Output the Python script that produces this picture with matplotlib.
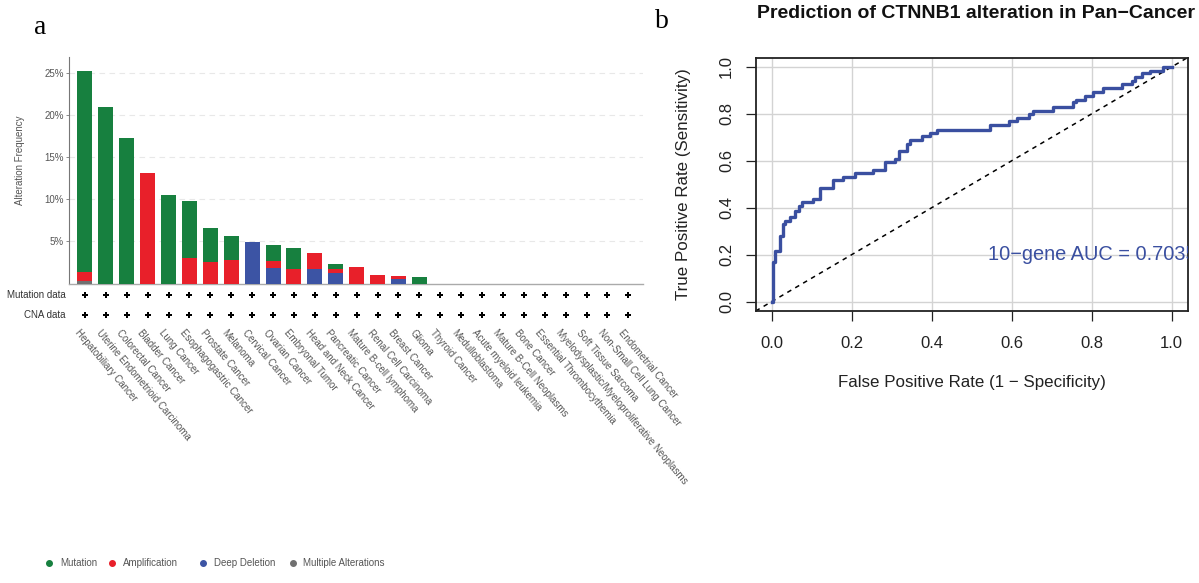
import matplotlib
matplotlib.use("Agg")
import matplotlib.pyplot as plt
from matplotlib.lines import Line2D
from matplotlib.transforms import blended_transform_factory
import numpy as np

plt.rcParams['font.family'] = ['Liberation Sans', 'DejaVu Sans']

# ---------------- data: panel a ----------------
categories = [
    "Hepatobiliary Cancer", "Uterine Endometrioid Carcinoma", "Colorectal Cancer",
    "Bladder Cancer", "Lung Cancer", "Esophagogastric Cancer", "Prostate Cancer",
    "Melanoma", "Cervical Cancer", "Ovarian Cancer", "Embryonal Tumor",
    "Head and Neck Cancer", "Pancreatic Cancer", "Mature B-cell lymphoma",
    "Renal Cell Carcinoma", "Breast Cancer", "Glioma", "Thyroid Cancer",
    "Medulloblastoma", "Acute myeloid leukemia", "Mature B-Cell Neoplasms",
    "Bone Cancer", "Essential Thrombocythemia",
    "Myelodysplastic/Myeloproliferative Neoplasms", "Soft Tissue Sarcoma",
    "Non-Small Cell Lung Cancer", "Endometrial Cancer",
]
mutation = [23.75, 20.9, 17.3, 0, 10.55, 6.73, 4.05, 2.85, 0, 1.83, 2.46, 0,
            0.6, 0, 0, 0, 0.73, 0, 0, 0, 0, 0, 0, 0, 0, 0, 0]
amplification = [1.15, 0, 0, 13.1, 0, 3.07, 2.55, 2.8, 0, 0.9, 1.72, 1.86,
                 0.39, 1.92, 1.05, 0.43, 0, 0, 0, 0, 0, 0, 0, 0, 0, 0, 0]
deep_deletion = [0, 0, 0, 0, 0, 0, 0, 0, 4.97, 1.8, 0, 1.72,
                 1.29, 0, 0, 0.5, 0, 0, 0, 0, 0, 0, 0, 0, 0, 0, 0]
multiple = [0.25, 0, 0, 0, 0, 0, 0, 0, 0, 0, 0, 0,
            0, 0, 0, 0, 0, 0, 0, 0, 0, 0, 0, 0, 0, 0, 0]
yticks_a = [5, 10, 15, 20, 25]
ytick_labels_a = ["5%", "10%", "15%", "20%", "25%"]
row_labels = ["Mutation data", "CNA data"]
legend_labels = ["Mutation", "Amplification", "Deep Deletion", "Multiple Alterations"]

# ---------------- data: panel b ----------------
fpr = [0.0, 0.004, 0.008, 0.021, 0.029, 0.033, 0.046, 0.058, 0.067, 0.075,
       0.104, 0.121, 0.154, 0.179, 0.208, 0.254, 0.283, 0.308, 0.317, 0.3375,
       0.346, 0.375, 0.396, 0.4125, 0.546, 0.592, 0.6125, 0.642, 0.654, 0.704,
       0.7525, 0.761, 0.783, 0.804, 0.829, 0.875, 0.9, 0.908, 0.925, 0.946,
       0.979, 1.0]
tpr = [0.0, 0.167, 0.217, 0.28, 0.33, 0.345, 0.362, 0.388, 0.406, 0.423,
       0.438, 0.485, 0.516, 0.53, 0.547, 0.561, 0.594, 0.608, 0.64, 0.673,
       0.687, 0.704, 0.718, 0.733, 0.751, 0.768, 0.782, 0.798, 0.812, 0.829,
       0.85, 0.861, 0.875, 0.893, 0.908, 0.925, 0.94, 0.955, 0.972, 0.983,
       1.0, 1.0]
roc_ticks = [0.0, 0.2, 0.4, 0.6, 0.8, 1.0]
auc_label = "10\u2212gene AUC = 0.7035"

# ---------------- colours ----------------
c_mut = "#17803f"
c_amp = "#e8202a"
c_del = "#3c54a4"
c_mult = "#707070"
c_roc = "#3a4fa0"
txt_grey = "#555555"

W, H = 1199, 583
fig = plt.figure(figsize=(W / 100, H / 100), dpi=100)

def fx(px):
    return px / W

def fy(py):
    return 1 - py / H

# ================= panel a =================
ax = fig.add_axes([fx(69.3), fy(283.5), fx(643 - 69.3), (283.5 - 56.7) / H])
x = np.arange(len(categories))
bw = 0.72
bottom = np.zeros(len(categories))
for vals, col in [(multiple, c_mult), (deep_deletion, c_del),
                  (amplification, c_amp), (mutation, c_mut)]:
    v = np.array(vals, dtype=float)
    ax.bar(x, v, width=bw, bottom=bottom, color=col, edgecolor='none', zorder=3)
    bottom += v

ax.set_xlim(-0.75, 26.7)
ax.set_ylim(0, 26.9)
ax.set_yticks(yticks_a)
ax.set_yticklabels(ytick_labels_a)
ax.set_xticks([])
ax.tick_params(axis='y', length=2.5, width=0.6, color='#777777', labelsize=7,
               labelcolor=txt_grey, pad=1.5)
for s in ['top', 'right']:
    ax.spines[s].set_visible(False)
ax.spines['left'].set_color('#777777')
ax.spines['left'].set_linewidth(0.8)
ax.spines['bottom'].set_color('#aaaaaa')
ax.spines['bottom'].set_linewidth(1.0)
ax.yaxis.grid(True, linestyle=(0, (5, 4)), color='#e8e8e8', linewidth=0.8, zorder=0)
ax.set_axisbelow(True)

fig.text(fx(20), fy(160), "Alteration Frequency", rotation=90, ha='center',
         va='center', fontsize=7, color=txt_grey)

# profiled rows
tr = blended_transform_factory(ax.transData, fig.transFigure)
for lab, py in zip(row_labels, [295, 315]):
    fig.text(fx(66), fy(py), lab, ha='right', va='center', fontsize=7, color='#333333')
    ax.scatter(x, np.full(len(x), fy(py)), marker='P', s=22, color='black',
               transform=tr, clip_on=False, linewidths=0, zorder=4)

# category labels
for i, cat in enumerate(categories):
    ax.text(i - 0.2, fy(328), cat, transform=tr, rotation=-50,
            rotation_mode='anchor', ha='left', va='top', fontsize=7,
            color=txt_grey)

# legend
leg_items = [(49, 60, c_mut), (112, 123, c_amp), (203, 214, c_del), (293, 303, c_mult)]
for (dx, tx, col), lab in zip(leg_items, legend_labels):
    fig.add_artist(Line2D([fx(dx)], [fy(563)], marker='o', markersize=4,
                          color=col, linestyle='none', transform=fig.transFigure))
    fig.text(fx(tx), fy(563), lab, ha='left', va='center', fontsize=7, color=txt_grey)

fig.text(fx(40), fy(27), "a", fontsize=20, family='Liberation Serif',
         ha='center', va='center')

# ================= panel b =================
ax2 = fig.add_axes([fx(755.7), fy(311), fx(432), 253.5 / H])
ax2.set_xlim(-0.04, 1.04)
ax2.set_ylim(-0.04, 1.04)
for t in roc_ticks:
    ax2.axvline(t, color='#d3d3d3', lw=1.0, zorder=0)
    ax2.axhline(t, color='#d3d3d3', lw=1.0, zorder=0)
ax2.plot([-0.04, 1.04], [-0.04, 1.04], color='black', lw=1.1,
         linestyle=(0, (3, 3)), zorder=2)
ax2.plot(fpr, tpr, drawstyle='steps-post', color=c_roc, lw=2.4, zorder=3)
ax2.set_xticks(roc_ticks)
ax2.set_yticks(roc_ticks)
ax2.set_xticklabels([f"{t:.1f}" for t in roc_ticks])
ax2.set_yticklabels([f"{t:.1f}" for t in roc_ticks], rotation=90, va='center')
ax2.tick_params(length=7.5, width=0.9, labelsize=12, pad=8, colors='#222222')
ax2.tick_params(axis='x', pad=10.5)
for s in ax2.spines.values():
    s.set_linewidth(1.3)
    s.set_color('#222222')
ax2.set_xlabel("False Positive Rate (1 \u2212 Specificity)", fontsize=12.2, labelpad=17,
               color='#222222')
ax2.set_ylabel("True Positive Rate (Sensitivity)", fontsize=12.2, labelpad=20,
               color='#222222')
t_auc = ax2.text(0.542, 0.2, auc_label, color=c_roc, fontsize=14.4, ha='left',
                 va='center', zorder=4)
t_auc.set_clip_on(True)
t_auc.set_clip_path(ax2.patch)
fig.text(fx(976), fy(14), "Prediction of CTNNB1 alteration in Pan\u2212Cancer",
         ha='center', va='center', fontsize=14, fontweight='bold', color='#111111')
fig.text(fx(662), fy(22), "b", fontsize=20, family='Liberation Serif',
         ha='center', va='center')

fig.savefig("out.png", dpi=100)
